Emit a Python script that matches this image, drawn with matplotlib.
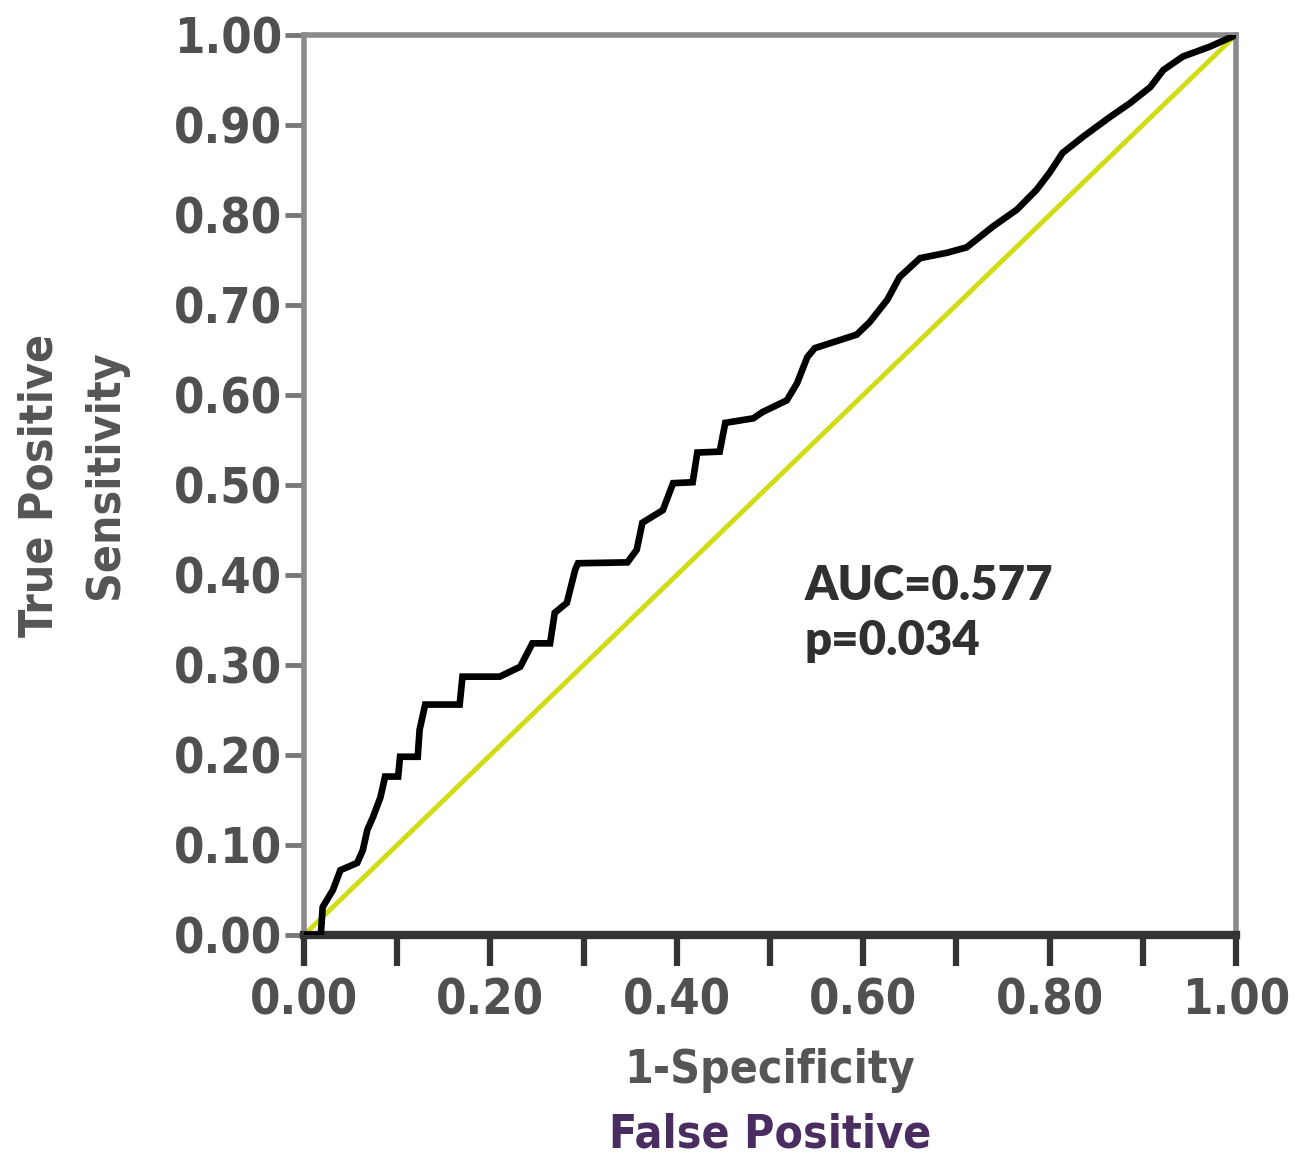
import matplotlib.pyplot as plt
from matplotlib import font_manager
from matplotlib.font_manager import FontProperties

# ROC curve points
fpr = [0.000, 0.018, 0.020, 0.031, 0.039, 0.057, 0.063, 0.068, 0.074, 0.082,
       0.087, 0.101, 0.103, 0.122, 0.124, 0.130, 0.167, 0.170, 0.210, 0.232,
       0.245, 0.264, 0.269, 0.282, 0.291, 0.294, 0.347, 0.357, 0.363, 0.385,
       0.396, 0.417, 0.422, 0.446, 0.452, 0.482, 0.492, 0.518, 0.529, 0.540,
       0.548, 0.575, 0.593, 0.607, 0.626, 0.639, 0.661, 0.690, 0.711, 0.739,
       0.765, 0.786, 0.800, 0.814, 0.836, 0.865, 0.886, 0.908, 0.922, 0.943,
       0.972, 1.000]
tpr = [0.000, 0.000, 0.031, 0.050, 0.072, 0.080, 0.094, 0.117, 0.131, 0.153,
       0.176, 0.176, 0.198, 0.198, 0.228, 0.256, 0.256, 0.287, 0.287, 0.298,
       0.324, 0.324, 0.358, 0.369, 0.406, 0.413, 0.414, 0.428, 0.458, 0.472,
       0.502, 0.503, 0.536, 0.537, 0.569, 0.574, 0.581, 0.594, 0.613, 0.642,
       0.652, 0.661, 0.667, 0.681, 0.706, 0.731, 0.752, 0.758, 0.764, 0.787,
       0.806, 0.828, 0.847, 0.869, 0.887, 0.909, 0.924, 0.942, 0.961, 0.976,
       0.987, 1.000]
ref_line = [0.0, 1.0]

x_ticks = [0.0, 0.1, 0.2, 0.3, 0.4, 0.5, 0.6, 0.7, 0.8, 0.9, 1.0]
x_labels = ["0.00", "", "0.20", "", "0.40", "", "0.60", "", "0.80", "", "1.00"]
y_ticks = [0.0, 0.1, 0.2, 0.3, 0.4, 0.5, 0.6, 0.7, 0.8, 0.9, 1.0]
y_labels = ["%.2f" % v for v in y_ticks]

auc_text = "AUC=0.577"
p_text = "p=0.034"

# look for a narrow bold face, the original uses something like Arial Narrow
path = None
size = 37
for key, sz in [("LiberationSansNarrow-Bold.", 42), ("DejaVuSansCondensed-Bold.", 35)]:
    for f in font_manager.fontManager.ttflist:
        if key in f.fname:
            path, size = f.fname, sz
            break
    if path:
        break


def fp(sz):
    if path:
        return FontProperties(fname=path, size=sz)
    return FontProperties(family="Liberation Sans", weight="bold", size=sz)


fig = plt.figure(figsize=(13.06, 11.61), dpi=100)
ax = fig.add_axes([0.2328, 0.1947, 0.7136, 0.7752])

ax.plot(ref_line, ref_line, color="#d0dc14", lw=3.5, zorder=2)
ax.plot(fpr, tpr, color="black", lw=4.8, zorder=3, solid_joinstyle="miter")

ax.set_xlim(0, 1)
ax.set_ylim(0, 1)

ax.set_xticks(x_ticks)
ax.set_xticklabels(x_labels)
ax.set_yticks(y_ticks)
ax.set_yticklabels(y_labels)

for lab in ax.get_xticklabels() + ax.get_yticklabels():
    lab.set_fontproperties(fp(size))
    lab.set_color("#505050")

ax.tick_params(axis="x", direction="out", length=22, width=4.5, color="#333333", pad=8)
ax.tick_params(axis="y", direction="out", length=14, width=3.5, color="#777777", pad=2)

for side in ["left", "top", "right"]:
    ax.spines[side].set_color("#8a8a8a")
    ax.spines[side].set_linewidth(4)
ax.spines["bottom"].set_color("#333333")
ax.spines["bottom"].set_linewidth(6)

lab_size = size * 0.95
ax.set_xlabel("1-Specificity", fontproperties=fp(lab_size), color="#555555", labelpad=17)
fig.text(0.59, 0.012, "False Positive", fontproperties=fp(lab_size),
         color="#4a2d60", ha="center")
ax.set_ylabel("True Positive", fontproperties=fp(lab_size), color="#555555", labelpad=80)
fig.text(0.081, 0.591, "Sensitivity", fontproperties=fp(lab_size),
         color="#555555", rotation=90, ha="center", va="center")

ax.text(0.537, 0.372, auc_text, fontfamily="Lato", fontweight="heavy", fontsize=34,
        color="#303030", va="baseline")
ax.text(0.537, 0.311, p_text, fontfamily="Lato", fontweight="heavy", fontsize=34,
        color="#303030", va="baseline")

fig.savefig("out.png", dpi=100, facecolor="white")
